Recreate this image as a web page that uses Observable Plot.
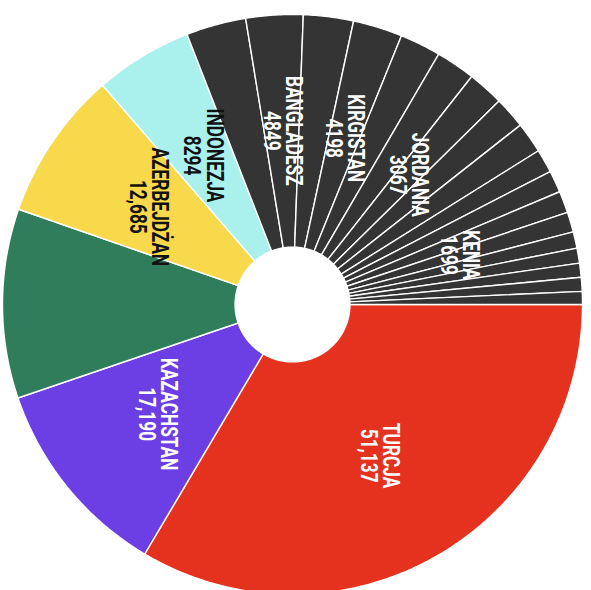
<!DOCTYPE html>
<html>
<head>
<meta charset="utf-8">
<script src="https://cdn.jsdelivr.net/npm/d3@7"></script>
<script src="https://cdn.jsdelivr.net/npm/@observablehq/plot@0.6"></script>
<style>
  html, body { margin: 0; padding: 0; background: #ffffff; }
  #chart { width: 591px; height: 590px; overflow: hidden; }
</style>
</head>
<body>
<div id="chart"></div>
<script>
// Slices, clockwise from 3 o'clock (null = slice without a label)
const countries = ["TURCJA", "KAZACHSTAN", null, "AZERBEJDŻAN", "INDONEZJA",
  null, "BANGLADESZ", null, "KIRGISTAN", null, null, "JORDANIA",
  null, null, null, null, null, "KENIA", null, null, null, null, null];
const values = [51137, 17190, 16100, 12685, 8294,
  5100, 4849, 4250, 4198, 3480, 3350, 3067,
  2700, 2630, 2000, 1870, 1850, 1699, 1400, 1270, 1200, 1180, 1100];
// colour groups: first five slices have their own colour, the rest are dark
const groups = ["Turcja", "Kazachstan", "green", "Azerbejdżan", "Indonezja"];
const groupColors = ["#e5321f", "#6b3fe4", "#2f7d5b", "#f8d94b", "#aaf0ec"];
const otherColor = "#343434";
const darkText = ["AZERBEJDŻAN", "INDONEZJA"];

const innerR = 0.198, outerR = 1, labelR = 0.6;

const slices = countries.map((name, i) => ({
  id: i, name, value: values[i],
  group: i < groups.length ? groups[i] : "other"
}));

const arcs = d3.pie().sort(null).value(d => d.value)
  .startAngle(Math.PI / 2).endAngle(Math.PI / 2 + 2 * Math.PI)(slices);

// outline points of each ring segment, derived from the pie angles
const pts = [];
for (const a of arcs) {
  const n = Math.max(2, Math.ceil((a.endAngle - a.startAngle) / (Math.PI / 360)));
  const ring = [];
  for (let k = 0; k <= n; k++) {
    const t = a.startAngle + (a.endAngle - a.startAngle) * k / n;
    ring.push({t, r: outerR});
  }
  for (let k = n; k >= 0; k--) {
    const t = a.startAngle + (a.endAngle - a.startAngle) * k / n;
    ring.push({t, r: innerR});
  }
  ring.push(ring[0]);
  for (const p of ring) {
    pts.push({id: a.data.id, group: a.data.group,
      x: p.r * Math.sin(p.t), y: p.r * Math.cos(p.t)});
  }
}

const fmt = v => v >= 10000 ? d3.format(",")(v) : String(v);
const labels = arcs.filter(a => a.data.name).map(a => {
  const m = (a.startAngle + a.endAngle) / 2;
  return {
    x: labelR * Math.sin(m), y: labelR * Math.cos(m),
    text: a.data.name + "\n" + fmt(a.data.value),
    color: darkText.includes(a.data.name) ? "#111111" : "#ffffff"
  };
});

const chart = Plot.plot({
  width: 591,
  height: 590,
  x: {domain: [-1, 1], range: [2, 582], axis: null},
  y: {domain: [-1, 1], range: [594, 14], axis: null},
  color: {type: "ordinal", domain: [...groups, "other"], range: [...groupColors, otherColor]},
  style: {background: "#ffffff"},
  marks: [
    Plot.line(pts, {x: "x", y: "y", z: "id", fill: "group", stroke: "#ffffff",
      strokeWidth: 1.4, strokeLinejoin: "round", curve: "linear"}),
    Plot.text(labels, {x: "x", y: "y", text: "text", rotate: 90,
      fill: d => d.color, fontSize: 24, fontWeight: "bold", lineHeight: 0.92,
      fontFamily: "Roboto, 'Liberation Sans', sans-serif"})
  ]
});
// condense the label glyphs along the reading direction
chart.querySelectorAll("g[aria-label='text'] text").forEach(t => {
  const tr = t.getAttribute("transform") || "";
  t.setAttribute("transform", tr + " scale(0.72,1)");
});
document.getElementById("chart").appendChild(chart);
</script>
</body>
</html>
